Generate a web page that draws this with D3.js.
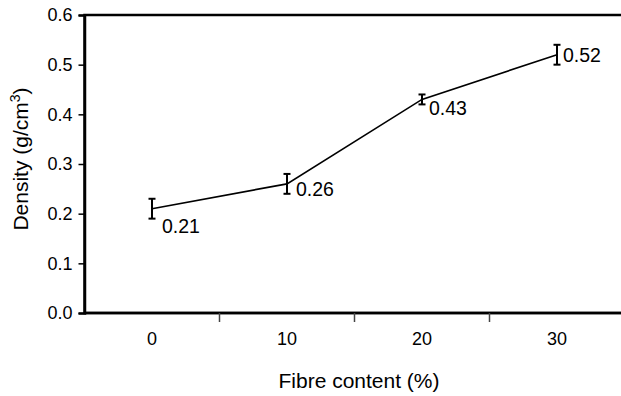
<!DOCTYPE html>
<html>
<head>
<meta charset="utf-8">
<script src="https://cdn.jsdelivr.net/npm/d3@7"></script>
<style>
  html, body { margin: 0; padding: 0; background: #fff; }
  svg { display: block; font-family: "Liberation Sans", Arial, sans-serif; }
</style>
</head>
<body>
<svg id="chart" width="621" height="396"></svg>
<script>
// Fibre content categories and measured density
const fibreContent = ["0", "10", "20", "30"];
const density = [0.21, 0.26, 0.43, 0.52];
const densityError = [0.02, 0.02, 0.01, 0.02];
const densityLabels = ["0.21", "0.26", "0.43", "0.52"];
const yTicks = [0.0, 0.1, 0.2, 0.3, 0.4, 0.5, 0.6];

const svg = d3.select("#chart");
const plotLeft = 84.5, plotRight = 624.5, plotTop = 15, plotBottom = 313;

const x = d3.scaleBand().domain(fibreContent).range([plotLeft, plotRight]).paddingInner(0).paddingOuter(0);
const y = d3.scaleLinear().domain([0, 0.6]).range([plotBottom, plotTop]);
const cx = d => x(d) + x.bandwidth() / 2;

// Plot frame (top edge; right edge falls outside the canvas)
svg.append("rect")
  .attr("x", plotLeft).attr("y", plotTop)
  .attr("width", plotRight - plotLeft).attr("height", plotBottom - plotTop)
  .attr("fill", "none").attr("stroke", "#000").attr("stroke-width", 2.5);

// Y axis
const yAxis = svg.append("g")
  .attr("transform", `translate(${plotLeft},0)`)
  .call(d3.axisLeft(y).tickValues(yTicks).tickFormat(d3.format(".1f")).tickSize(6).tickPadding(6));
yAxis.select(".domain").attr("stroke", "#000").attr("stroke-width", 2.5);
yAxis.selectAll(".tick line").attr("stroke", "#000").attr("stroke-width", 1.5);
yAxis.selectAll(".tick text").attr("font-size", 18).attr("fill", "#000")
  .attr("font-family", "Liberation Sans, Arial, sans-serif");

// X axis: ticks sit between categories
const xAxis = svg.append("g").attr("transform", `translate(0,${plotBottom})`);
xAxis.append("line")
  .attr("x1", plotLeft).attr("x2", plotRight)
  .attr("stroke", "#000").attr("stroke-width", 2.5);
xAxis.selectAll("line.sep")
  .data(fibreContent.slice(1))
  .join("line")
  .attr("class", "sep")
  .attr("x1", d => x(d)).attr("x2", d => x(d))
  .attr("y1", 0).attr("y2", 9)
  .attr("stroke", "#444").attr("stroke-width", 1.5);
xAxis.selectAll("text")
  .data(fibreContent)
  .join("text")
  .attr("x", cx).attr("y", 32)
  .attr("text-anchor", "middle")
  .attr("font-size", 18).attr("fill", "#000")
  .text(d => d);

// Axis titles
svg.append("text")
  .attr("x", 359).attr("y", 388)
  .attr("text-anchor", "middle")
  .attr("font-size", 21).attr("fill", "#000")
  .text("Fibre content (%)");

const yTitle = svg.append("text")
  .attr("transform", "translate(28,159) rotate(-90)")
  .attr("text-anchor", "middle")
  .attr("font-size", 21).attr("fill", "#000");
yTitle.append("tspan").text("Density (g/cm");
yTitle.append("tspan").attr("font-size", 14).attr("dy", -8).text("3");
yTitle.append("tspan").attr("dy", 8).text(")");

// Density line
const pts = fibreContent.map((c, i) => ({ c, v: density[i], e: densityError[i], label: densityLabels[i] }));
svg.append("path")
  .datum(pts)
  .attr("fill", "none").attr("stroke", "#000").attr("stroke-width", 1.6)
  .attr("d", d3.line().x(d => cx(d.c)).y(d => y(d.v)));

// Error bars
const eb = svg.append("g").attr("stroke", "#000").attr("stroke-width", 2);
pts.forEach(d => {
  const px = cx(d.c);
  eb.append("line").attr("x1", px).attr("x2", px).attr("y1", y(d.v - d.e)).attr("y2", y(d.v + d.e));
  eb.append("line").attr("x1", px - 3.5).attr("x2", px + 3.5).attr("y1", y(d.v - d.e)).attr("y2", y(d.v - d.e));
  eb.append("line").attr("x1", px - 3.5).attr("x2", px + 3.5).attr("y1", y(d.v + d.e)).attr("y2", y(d.v + d.e));
});

// Value labels beside each point
const labelNudge = [[10, 24], [9, 12], [7, 16], [6, 7]];
svg.selectAll("text.val")
  .data(pts)
  .join("text")
  .attr("class", "val")
  .attr("x", (d, i) => cx(d.c) + labelNudge[i][0])
  .attr("y", (d, i) => y(d.v) + labelNudge[i][1])
  .attr("font-size", 19.5).attr("fill", "#000")
  .text(d => d.label);
</script>
</body>
</html>
